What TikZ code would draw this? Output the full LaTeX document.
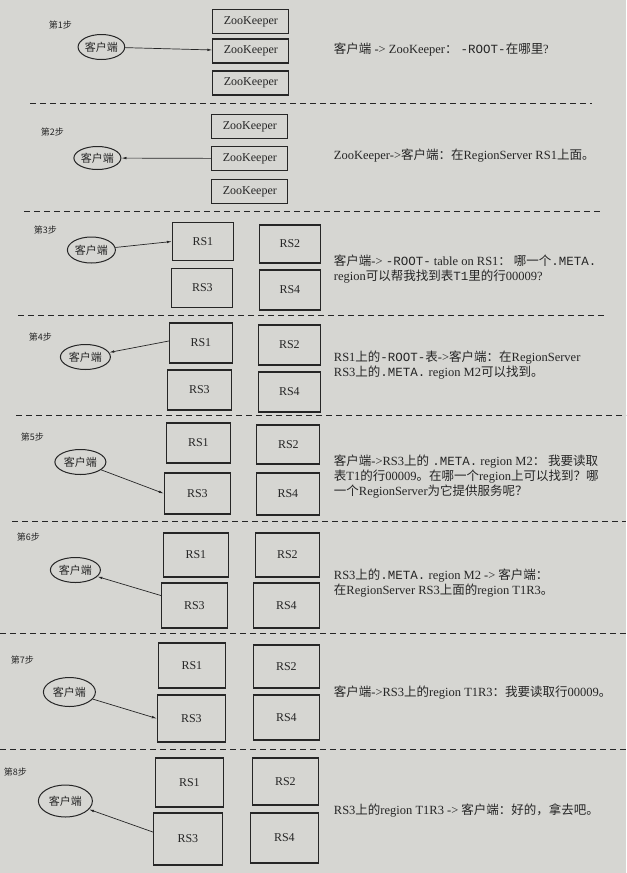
\documentclass[tikz,border=0pt]{standalone}
\usepackage{fontspec}
\setmainfont{Liberation Serif}
\setmonofont{Liberation Mono}
\newfontfamily\zhfont{Noto Sans CJK SC}
\usetikzlibrary{arrows.meta,shapes.geometric}
\definecolor{paper}{HTML}{D6D6D2}
\definecolor{ink}{HTML}{262626}
\newcommand{\zh}[1]{{\zhfont #1}}
\tikzset{>={Latex[length=5pt,width=2.6pt]},every node/.style={font=\fontsize{12}{14.5}\selectfont},
  zk/.style={draw,line width=1.1pt,inner sep=0pt,minimum width=76pt,minimum height=24pt},
  rs/.style 2 args={draw,line width=1.1pt,inner sep=0pt,minimum width=#1pt,minimum height=#2pt},
  client/.style 2 args={draw,ellipse,line width=1pt,inner sep=0pt,minimum width=#1pt,minimum height=#2pt,font=\zhfont\fontsize{11}{11}\selectfont},
  flow/.style={->,line width=.7pt},sep/.style={dash pattern=on 6pt off 4pt,line width=.8pt},
  stepno/.style={anchor=west,font=\zhfont\fontsize{9}{9}\selectfont},
  say/.style={anchor=west,align=left,font=\fontsize{12.5}{15}\selectfont}}

\begin{document}
\begin{tikzpicture}[x=1pt,y=-1pt,color=ink]
\fill[paper] (0,0) rectangle (626,873);
% step 1
\node[stepno] at (45,25) {第1步};
\node[zk] (Z1a) at (250.5,21.5) {ZooKeeper};\node[zk] (Z1b) at (250.5,51) {ZooKeeper};\node[zk] (Z1c) at (250.5,83) {ZooKeeper};
\node[client={45}{25}] (K1) at (101,47) {客户端};\draw[flow] (K1) -- (Z1b);
\node[say] at (330,50) {\zh{客户端} -> ZooKeeper\zh{：} \texttt{-ROOT-}\zh{在哪里}?};
\draw[sep] (30,103) -- (592,103);
% step 2
\node[stepno] at (37,132) {第2步};
\node[zk] (Z2a) at (249.5,126.5) {ZooKeeper};\node[zk] (Z2b) at (249.5,158.5) {ZooKeeper};\node[zk] (Z2c) at (249.5,191.5) {ZooKeeper};
\node[client={47}{23}] (K2) at (97,158) {客户端};\draw[flow] (Z2b) -- (K2);
\node[say] at (330,156) {ZooKeeper->\zh{客户端：在}RegionServer RS1\zh{上面。}};
\draw[sep] (24,211) -- (600,211);
% step 3
\node[stepno] at (30,230) {第3步};
\node[rs={61}{38}] (S3a) at (202.5,241.5) {RS1};\node[rs={61}{38}] (S3b) at (289.5,244) {RS2};
\node[rs={61}{39}] (S3c) at (202,288) {RS3};\node[rs={61}{40}] (S3d) at (289.5,290) {RS4};
\node[client={48}{26}] (K3) at (91,250) {客户端};\draw[flow] (K3) -- (S3a.west);
\node[say] at (330,269) {\zh{客户端}-> \texttt{-ROOT-} table on RS1\zh{：\ 哪一个}\texttt{.META.}\\region\zh{可以帮我找到表}\texttt{T1}\zh{里的行}00009?};
\draw[sep] (18,315) -- (606,315);
% step 4
\node[stepno] at (25,337) {第4步};
\node[rs={63}{40}] (S4a) at (200.5,343) {RS1};\node[rs={62}{40}] (S4b) at (289,345) {RS2};
\node[rs={64}{40}] (S4c) at (199,390) {RS3};\node[rs={62}{40}] (S4d) at (289,392) {RS4};
\node[client={50}{25}] (K4) at (85,357) {客户端};\draw[flow] ([yshift=2pt]S4a.west) -- (K4);
\node[say] at (330,365) {RS1\zh{上的}\texttt{-ROOT-}\zh{表}->\zh{客户端：在}RegionServer\\RS3\zh{上的}\texttt{.META.} region M2\zh{可以找到。}};
\draw[sep] (16,415) -- (626,415);
% step 5
\node[stepno] at (17,437) {第5步};
\node[rs={64}{40}] (S5a) at (198,443) {RS1};\node[rs={63}{39}] (S5b) at (288,444.5) {RS2};
\node[rs={66}{41}] (S5c) at (197,493.5) {RS3};\node[rs={63}{42}] (S5d) at (287.5,494) {RS4};
\node[client={51}{25}] (K5) at (80,462) {客户端};\draw[flow] (K5) -- (S5c.west);
\node[say] at (330,477) {\zh{客户端}->RS3\zh{上的} \texttt{.META.} region M2\zh{：\ 我要读取}\\\zh{表}T1\zh{的行}00009\zh{。在哪一个}region\zh{上可以找到？哪}\\\zh{一个}RegionServer\zh{为它提供服务呢？}};
\draw[sep] (12,521) -- (626,521);
% step 6
\node[stepno] at (13,537) {第6步};
\node[rs={65}{44}] (S6a) at (195.5,555) {RS1};\node[rs={64}{44}] (S6b) at (287,555) {RS2};
\node[rs={66}{45}] (S6c) at (194,605.5) {RS3};\node[rs={66}{45}] (S6d) at (286,605.5) {RS4};
\node[client={50}{25}] (K6) at (75,570) {客户端};\draw[flow] ([yshift=10pt]S6c.west) -- (K6);
\node[say] at (330,583) {RS3\zh{上的}\texttt{.META.} region M2 -> \zh{客户端：}\\\zh{在}RegionServer RS3\zh{上面的}region T1R3\zh{。}};
\draw[sep] (0,633) -- (626,633);
% step 7
\node[stepno] at (7,660) {第7步};
\node[rs={67}{45}] (S7a) at (191.5,665.5) {RS1};\node[rs={66}{43}] (S7b) at (286,666.5) {RS2};
\node[rs={68}{47}] (S7c) at (191,718.5) {RS3};\node[rs={66}{45}] (S7d) at (286,717.5) {RS4};
\node[client={52}{29}] (K7) at (69,692) {客户端};\draw[flow] (K7) -- (S7c.west);
\node[say] at (330,693) {\zh{客户端}->RS3\zh{上的}region T1R3\zh{：我要读取行}00009\zh{。}};
\draw[sep] (0,749) -- (626,749);
% step 8
\node[stepno] at (0,772) {第8步};
\node[rs={68}{49}] (S8a) at (189,782.5) {RS1};\node[rs={66}{47}] (S8b) at (285,781.5) {RS2};
\node[rs={69}{52}] (S8c) at (187.5,839) {RS3};\node[rs={68}{50}] (S8d) at (284,838) {RS4};
\node[client={54}{32}] (K8) at (65,801) {客户端};\draw[flow] ([yshift=7pt]S8c.west) -- (K8);
\node[say] at (330,810) {RS3\zh{上的}region T1R3 -> \zh{客户端：好的，拿去吧。}};
\end{tikzpicture}
\end{document}
